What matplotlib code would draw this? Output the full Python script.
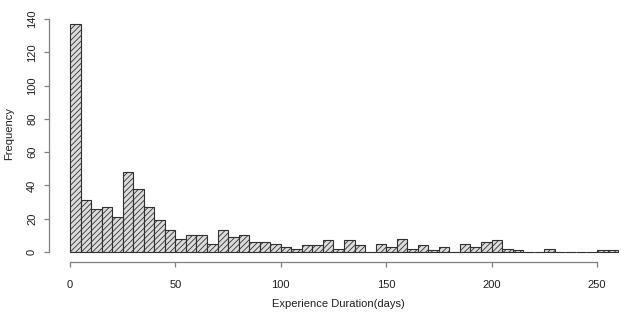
import numpy as np
import matplotlib
matplotlib.use("Agg")
import matplotlib.pyplot as plt

plt.rcParams['font.family'] = ['Liberation Sans', 'DejaVu Sans']
plt.rcParams['hatch.linewidth'] = 0.6

# histogram: bins of 5 days from 0 to 260
bin_edges = np.arange(0, 265, 5)
counts = [137, 31, 26, 27, 21, 48, 38, 27, 19, 13,
          8, 10, 10, 5, 13, 9, 10, 6, 6, 5,
          3, 2, 4, 4, 7, 2, 7, 4, 0, 5,
          3, 8, 2, 4, 1, 3, 0, 5, 3, 6,
          7, 2, 1, 0, 0, 2, 0, 0, 0, 0,
          1, 1]
x_ticks = [0, 50, 100, 150, 200, 250]
y_ticks = [0, 20, 40, 60, 80, 100, 120, 140]

fig = plt.figure(figsize=(6.21, 3.14), dpi=100)
ax = fig.add_axes([55 / 621, 1 - 258 / 314, 566 / 621, 248 / 314])

ax.bar(bin_edges[:-1], counts, width=5, align='edge',
       facecolor='#dcdcdc', edgecolor='#303030', linewidth=0.8,
       hatch='//////')

ax.set_xlim(-7.1, 261.4)
ax.set_ylim(-3.6, 145.4)

# R-style detached axes
for s in ['top', 'right']:
    ax.spines[s].set_visible(False)
ax.spines['left'].set_position(('outward', 4.3))
ax.spines['bottom'].set_position(('outward', 2.9))
ax.spines['left'].set_bounds(0, 140)
ax.spines['bottom'].set_bounds(0, 250)
for s in ['left', 'bottom']:
    ax.spines[s].set_color('#808080')
    ax.spines[s].set_linewidth(0.9)

ax.set_xticks(x_ticks)
ax.set_yticks(y_ticks)
ax.set_yticklabels([str(v) for v in y_ticks], rotation=90, va='center')
ax.tick_params(axis='both', colors='#808080', labelcolor='#202020',
               labelsize=8, length=3.6, width=0.9)
ax.tick_params(axis='x', pad=9)
ax.tick_params(axis='y', pad=5)

ax.set_xlabel('Experience Duration(days)', fontsize=8, color='#202020', labelpad=7)
ax.set_ylabel('Frequency', fontsize=8, color='#202020', labelpad=9)

fig.savefig('out.png', dpi=100)
